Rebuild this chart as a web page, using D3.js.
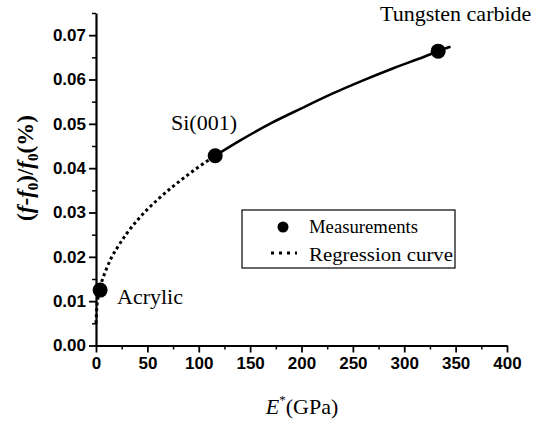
<!DOCTYPE html>
<html><head><meta charset="utf-8">
<script src="https://cdn.jsdelivr.net/npm/d3@7"></script>
<style>body{margin:0;background:#fff}svg{display:block}</style>
</head><body>
<script>
// Measured points
const materials = ["Acrylic", "Si(001)", "Tungsten carbide"];
const modulus = [4, 116, 333];            // E* (GPa)
const shift = [0.0125, 0.0428, 0.0664];   // (f-f0)/f0 (%)
// Regression curve
const curveE = [0, 1, 2, 4, 6, 8, 10, 15, 20, 30, 40, 50, 60, 75, 90, 100, 116, 140, 170, 200, 230, 260, 290, 320, 333, 345];
const curveY = [0.0050, 0.0092, 0.0108, 0.0131, 0.0147, 0.0160, 0.0172, 0.0198, 0.0218, 0.0253, 0.0282, 0.0307, 0.0329, 0.0359, 0.0386, 0.0403, 0.0428, 0.0462, 0.0501, 0.0535, 0.0568, 0.0598, 0.0626, 0.0652, 0.0664, 0.0674];
const xTicks = [0, 50, 100, 150, 200, 250, 300, 350, 400];
const yTicks = [0.00, 0.01, 0.02, 0.03, 0.04, 0.05, 0.06, 0.07];
const legendLabels = ["Measurements", "Regression curve"];

const W = 547, H = 426;
const svg = d3.select("body").append("svg").attr("width", W).attr("height", H);
const x = d3.scaleLinear().domain([0, 400]).range([96, 507]);
const y = d3.scaleLinear().domain([0, 0.075]).range([345.5, 13]);

const sans = "'Liberation Sans', Arial, sans-serif";
const serif = "'Liberation Serif', 'Times New Roman', serif";

// minor ticks
svg.append("g").attr("transform", `translate(0,${y(0)})`)
  .call(d3.axisBottom(x).tickValues(d3.range(25, 400, 50)).tickSize(4).tickFormat(""))
  .call(g => g.select(".domain").remove())
  .selectAll("line").attr("stroke-width", 1.5);
svg.append("g").attr("transform", `translate(${x(0)},0)`)
  .call(d3.axisLeft(y).tickValues(d3.range(0.005, 0.08, 0.01)).tickSize(4).tickFormat(""))
  .call(g => g.select(".domain").remove())
  .selectAll("line").attr("stroke-width", 1.5);

// major axes
const xa = svg.append("g").attr("transform", `translate(0,${y(0)})`)
  .call(d3.axisBottom(x).tickValues(xTicks).tickSize(7).tickSizeOuter(0).tickPadding(4).tickFormat(d3.format("d")));
const ya = svg.append("g").attr("transform", `translate(${x(0)},0)`)
  .call(d3.axisLeft(y).tickValues(yTicks).tickSize(7).tickSizeOuter(0).tickPadding(3).tickFormat(d3.format(".2f")));
[xa, ya].forEach(a => {
  a.select(".domain").attr("stroke-width", 2.2);
  a.selectAll("line").attr("stroke-width", 1.8);
  a.selectAll("text").attr("font-family", sans).attr("font-weight", "bold")
    .attr("font-size", 17).attr("fill", "#000");
});

// regression curve
const pts = curveE.map((e, i) => [e, curveY[i]]);
const line = d3.line().x(d => x(d[0])).y(d => y(d[1])).curve(d3.curveMonotoneX);
svg.append("path").datum(pts.filter(d => d[0] <= 116)).attr("d", line)
  .attr("fill", "none").attr("stroke", "#000").attr("stroke-width", 3)
  .attr("stroke-dasharray", "3,3");
svg.append("path").datum(pts.filter(d => d[0] >= 116)).attr("d", line)
  .attr("fill", "none").attr("stroke", "#000").attr("stroke-width", 2.6);

// measurement points
svg.selectAll("circle.m").data(modulus).enter().append("circle").attr("class", "m")
  .attr("cx", d => x(d)).attr("cy", (d, i) => y(shift[i])).attr("r", 7.5).attr("fill", "#000");

// point labels
const labelPos = [[117, 304], [171, 130], [380, 21]];
svg.selectAll("text.lab").data(materials).enter().append("text").attr("class", "lab")
  .attr("x", (d, i) => labelPos[i][0]).attr("y", (d, i) => labelPos[i][1])
  .attr("font-family", serif).attr("font-size", 22).text(d => d);

// legend
const lg = svg.append("g");
lg.append("rect").attr("x", 242).attr("y", 210).attr("width", 213).attr("height", 58)
  .attr("fill", "#fff").attr("stroke", "#000").attr("stroke-width", 1.2);
lg.append("circle").attr("cx", 283).attr("cy", 227).attr("r", 5.5).attr("fill", "#000");
lg.append("line").attr("x1", 271).attr("x2", 297).attr("y1", 253).attr("y2", 253)
  .attr("stroke", "#000").attr("stroke-width", 3).attr("stroke-dasharray", "3,5");
lg.selectAll("text").data(legendLabels).enter().append("text")
  .attr("x", 309).attr("y", (d, i) => 233 + i * 28)
  .attr("font-family", serif).attr("font-size", 19)
  .attr("textLength", (d, i) => i === 0 ? 109 : 144).attr("lengthAdjust", "spacingAndGlyphs")
  .text(d => d);

// x title
const xt = svg.append("text").attr("x", 302).attr("y", 414).attr("text-anchor", "middle")
  .attr("font-family", serif).attr("font-size", 22);
xt.append("tspan").attr("font-style", "italic").text("E");
xt.append("tspan").attr("font-size", 13).attr("dy", -10).text("*");
xt.append("tspan").attr("dy", 10).text("(GPa)");

// y title
const yt = svg.append("text").attr("transform", "translate(33,168) rotate(-90)")
  .attr("text-anchor", "middle").attr("font-family", serif).attr("font-weight", "bold").attr("font-size", 23);
yt.append("tspan").text("(");
yt.append("tspan").attr("font-style", "italic").text("f");
yt.append("tspan").text("-");
yt.append("tspan").attr("font-style", "italic").text("f");
yt.append("tspan").attr("font-size", 15).attr("dy", 5).text("0");
yt.append("tspan").attr("dy", -5).text(")/");
yt.append("tspan").attr("font-style", "italic").text("f");
yt.append("tspan").attr("font-size", 15).attr("dy", 5).text("0");
yt.append("tspan").attr("dy", -5).text("(%)");
</script>
</body></html>
